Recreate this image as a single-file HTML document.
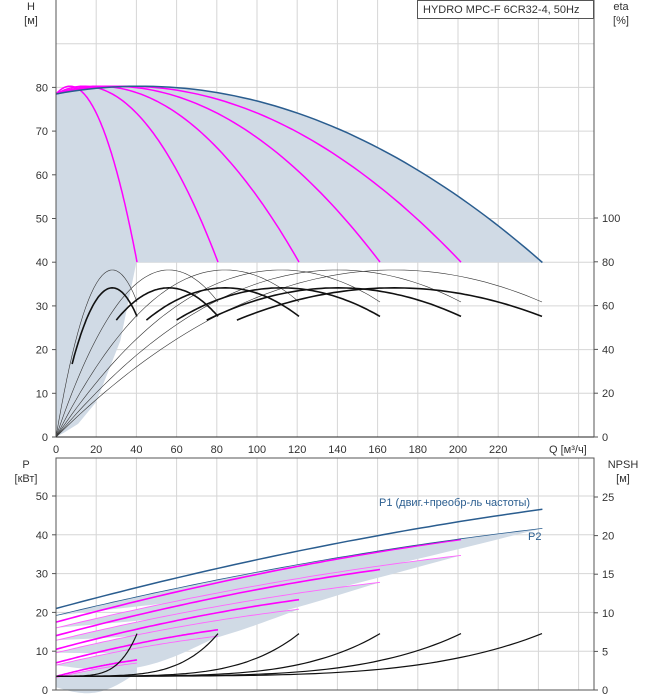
<!DOCTYPE html>
<html><head><meta charset="utf-8"><style>
body{margin:0;background:#fff}
svg{display:block;font-family:"Liberation Sans",sans-serif}
</style></head><body>
<svg id="s" width="658" height="700" xmlns="http://www.w3.org/2000/svg"></svg>
<script>
const S=document.getElementById('s');let o='';
const X=q=>56+2.01*q, YH=h=>437-4.37*h, YP=p=>690-3.88*p, YN=n=>690-7.72*n, YE=e=>437-2.19*e;
function pth(f,a,b,Y,st,w,extra){let d='';for(let i=0;i<=60;i++){let q=a+(b-a)*i/60;d+=(i?'L':'M')+X(q).toFixed(1)+','+Y(f(q)).toFixed(1);}o+=`<path d="${d}" fill="none" stroke="${st}" stroke-width="${w}" ${extra||''}/>`;}
const H1=q=>78.5+0.508*q-0.0363*q*q;
const E1=q=>Math.max(0,4.86*q-0.0867*q*q);
const P1=q=>3.5+0.14*q-0.00085*q*q;
const P2=q=>3.2+0.125*q-0.0008*q*q;
const N1=q=>1.8+5.5*Math.pow(q/40.3,4.5);
// grid
for(let q=0;q<=260;q+=20){o+=`<line x1="${X(q)}" y1="0" x2="${X(q)}" y2="437" stroke="#d6d6d6"/><line x1="${X(q)}" y1="458" x2="${X(q)}" y2="690" stroke="#d6d6d6"/>`;}
for(let h=10;h<=90;h+=10)o+=`<line x1="56" y1="${YH(h)}" x2="594" y2="${YH(h)}" stroke="#d6d6d6"/>`;
for(let p=10;p<=50;p+=10)o+=`<line x1="56" y1="${YP(p)}" x2="594" y2="${YP(p)}" stroke="#d6d6d6"/>`;
// upper shade
let d='M56,437';for(let i=0;i<=60;i++){let Q=242*i/60;d+=`L${X(Q).toFixed(1)},${YH(H1(Q/6)).toFixed(1)}`;}
d+=`L${X(242)},${YH(40)}L${X(40)},${YH(40)}L${X(32)},${YH(22)}L${X(20)},${YH(8)}L${X(11)},${YH(3)}L${X(4)},${YH(1)}Z`;
o+=`<path d="${d}" fill="#d0dae5"/>`;
// magenta H curves
for(let n=1;n<=5;n++)pth(Q=>H1(Q/n),0,40.3*n,YH,'#f0f',n==1?1.5:1.5);
pth(Q=>H1(Q/6),0,242,YH,'#2a5d8f',1.5);
// efficiency
for(let n=1;n<=6;n++){pth(Q=>1.12*E1(Q/n),0,40.3*n,YE,'#333',0.6);}
for(let n=1;n<=6;n++){pth(Q=>E1(Q/n),n==1?8:15*n,40.3*n,YE,'#111',1.6);}
// lower shades
for(let n=1;n<=6;n++){let d='M'+X(0)+','+YP(P2(0)*n-1);let top=[],bot=[];for(let i=0;i<=40;i++){let Q=40.3*n*i/40;top.push(X(Q).toFixed(1)+','+YP(n*P2(Q/n)).toFixed(1));bot.push(X(Q).toFixed(1)+','+YP(n*P2(Q/n)-5*Math.sin(Math.PI*i/40)*(n==1?0.7:1)-(n==1?2.5:0)).toFixed(1));}
o+=`<path d="M${top.join('L')}L${bot.reverse().join('L')}Z" fill="#d0dae5"/>`;}
for(let n=1;n<=5;n++){pth(Q=>n*P1(Q/n),0,40.3*n,YP,'#f0f',1.6);pth(Q=>n*P2(Q/n),0,40.3*n,YP,'#f6f',0.9);}
pth(Q=>6*P1(Q/6),0,242,YP,'#2a5d8f',1.5);
pth(Q=>6*P2(Q/6),0,242,YP,'#2a5d8f',0.8);
for(let n=1;n<=6;n++)pth(Q=>N1(Q/n),0,40.3*n,YN,'#111',1.2);
// axes
o+=`<line x1="56" y1="0" x2="56" y2="437" stroke="#555"/><line x1="56" y1="437" x2="594" y2="437" stroke="#222"/><line x1="594" y1="0" x2="594" y2="437" stroke="#555"/>`;
o+=`<rect x="56" y="458" width="538" height="232" fill="none" stroke="#555"/>`;
const T='font-size="11" fill="#333"';
for(let h=0;h<=80;h+=10)o+=`<line x1="52" y1="${YH(h)}" x2="56" y2="${YH(h)}" stroke="#555"/><text x="48" y="${YH(h)+4}" text-anchor="end" ${T}>${h}</text>`;
for(let e=0;e<=100;e+=20)o+=`<line x1="594" y1="${YE(e)}" x2="598" y2="${YE(e)}" stroke="#555"/><text x="602" y="${YE(e)+4}" ${T}>${e}</text>`;
for(let q=0;q<=220;q+=20)o+=`<text x="${X(q)}" y="453" text-anchor="middle" ${T}>${q}</text>`;
o+=`<text x="549" y="453" ${T}>Q [м³/ч]</text>`;
for(let p=0;p<=50;p+=10)o+=`<line x1="52" y1="${YP(p)}" x2="56" y2="${YP(p)}" stroke="#555"/><text x="48" y="${YP(p)+4}" text-anchor="end" ${T}>${p}</text>`;
for(let n=0;n<=25;n+=5)o+=`<line x1="594" y1="${YN(n)}" x2="598" y2="${YN(n)}" stroke="#555"/><text x="602" y="${YN(n)+4}" ${T}>${n}</text>`;
o+=`<text x="31" y="10" text-anchor="middle" ${T}>H</text><text x="31" y="24" text-anchor="middle" ${T}>[м]</text>`;
o+=`<text x="621" y="10" text-anchor="middle" ${T}>eta</text><text x="621" y="24" text-anchor="middle" ${T}>[%]</text>`;
o+=`<text x="26" y="468" text-anchor="middle" ${T}>P</text><text x="26" y="482" text-anchor="middle" ${T}>[кВт]</text>`;
o+=`<text x="623" y="468" text-anchor="middle" ${T}>NPSH</text><text x="623" y="482" text-anchor="middle" ${T}>[м]</text>`;
o+=`<text x="379" y="506" font-size="11" fill="#2a5d8f">P1 (двиг.+преобр-ль частоты)</text><text x="528" y="540" font-size="11" fill="#2a5d8f">P2</text>`;
o+=`<rect x="417.5" y="0.5" width="176" height="18" fill="#fff" stroke="#555"/><text x="423" y="13" ${T}>HYDRO MPC-F 6CR32-4, 50Hz</text>`;
S.innerHTML=o;
</script>
</body></html>
